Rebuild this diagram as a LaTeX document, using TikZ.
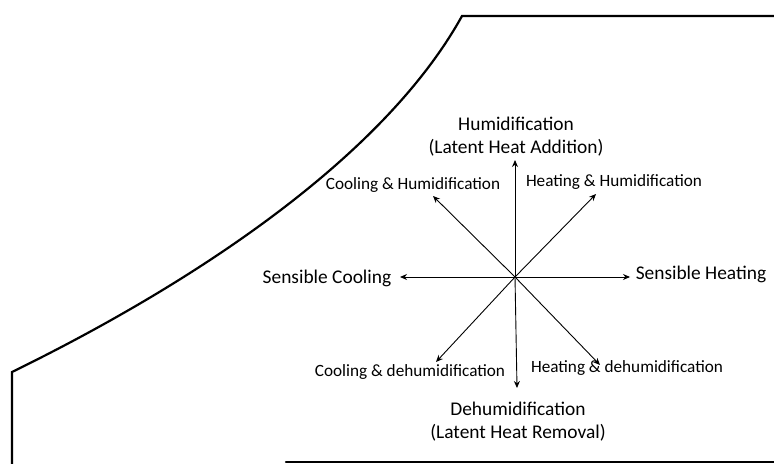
\documentclass[tikz,border=0pt]{standalone}
\usepackage{fontspec}
\setmainfont{Carlito}
\usetikzlibrary{arrows.meta}

\tikzset{
    chartline/.style={line width=1.1pt, line cap=round},
    process/.style={-{Stealth[length=3.5pt, width=3pt]}, line width=0.45pt},
    mainlabel/.style={font=\fontsize{9.7}{11.5}\selectfont, align=center, inner sep=1pt},
    sidelabel/.style={font=\fontsize{8.6}{10}\selectfont, inner sep=1pt}
}

\begin{document}
\begin{tikzpicture}[x=0.5pt, y=-0.5pt]
    \useasboundingbox (0,0) rectangle (774,464);

    % chart outline (saturation curve, left and bottom edges)
    \draw[chartline] (12,464) -- (12,372)
        .. controls (200,280) and (385,155) .. (462,16) -- (774,16);
    \draw[chartline] (286,462) -- (774,462);

    % state point and arrow tips
    \coordinate (o) at (515,277);
    \coordinate (tipN) at (515,160);
    \coordinate (tipS) at (517,388);
    \coordinate (tipW) at (400,277);
    \coordinate (tipE) at (630,277);
    \coordinate (tipNE) at (596,194);
    \coordinate (tipNW) at (433,196);
    \coordinate (tipSW) at (436,362);
    \coordinate (tipSE) at (600,365);

    % labels
    \node[mainlabel] (hum) at (516,137) {Humidification\\(Latent Heat Addition)};
    \node[mainlabel] (dehum) at (518,422) {Dehumidification\\(Latent Heat Removal)};
    \node[mainlabel] (scool) at (327,278) {Sensible Cooling};
    \node[mainlabel] (sheat) at (701,274) {Sensible Heating};
    \node[sidelabel] (coolhum) at (413,185) {Cooling \& Humidification};
    \node[sidelabel] (heathum) at (614,182) {Heating \& Humidification};
    \node[sidelabel] (cooldehum) at (410,372) {Cooling \& dehumidification};
    \node[sidelabel] (heatdehum) at (627,368) {Heating \& dehumidification};

    % process arrows
    \foreach \t in {tipN, tipS, tipW, tipE, tipNE, tipNW, tipSW, tipSE}
        \draw[process] (o) -- (\t);
\end{tikzpicture}
\end{document}
